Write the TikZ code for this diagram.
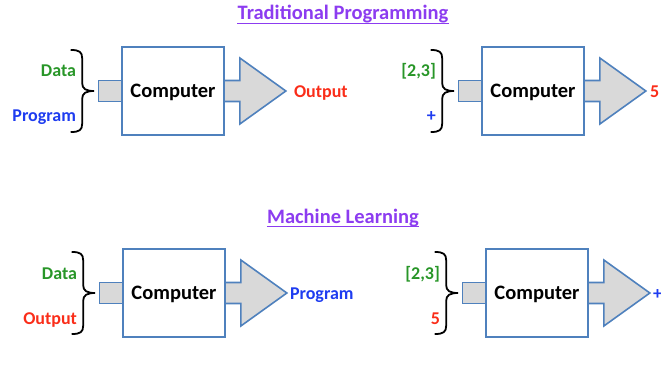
\documentclass[tikz,border=0pt]{standalone}
\usepackage{fontspec}
\setmainfont{Carlito}
\usetikzlibrary{calc,backgrounds}
\definecolor{boxblue}{RGB}{79,129,189}
\definecolor{fillgray}{RGB}{217,217,217}
\definecolor{titlepurple}{RGB}{140,60,240}
\definecolor{datagreen}{RGB}{40,150,40}
\definecolor{progblue}{RGB}{30,60,240}
\definecolor{outred}{RGB}{250,45,25}
\begin{document}
\begin{tikzpicture}[x=1pt,y=-1pt,
  compbox/.style={draw=boxblue, line width=1.7pt, fill=white, minimum width=102pt,
    minimum height=88pt, inner sep=0pt, text depth=0pt,
    font=\fontsize{20.5}{24}\selectfont\bfseries},
  inbox/.style={draw=boxblue, line width=1.6pt, fill=fillgray, minimum width=23pt,
    minimum height=21pt, inner sep=0pt},
  flow/.style={draw=boxblue, line width=1.6pt, fill=fillgray, line join=miter},
  bracepath/.style={draw=black, line width=1.8pt, line cap=round},
  lbl/.style={inner sep=0pt, font=\fontsize{18}{22}\selectfont\bfseries},
  title/.style={inner sep=0pt, text=titlepurple, font=\fontsize{20.5}{24}\selectfont\bfseries},
  uline/.style={draw=titlepurple, line width=1.3pt},
  rbrace/.pic={
    \draw[bracepath] (-11,-41) .. controls (-3,-41) and (0,-39) .. (0,-33)
      -- (0,-8) .. controls (0,-2) and (4,0) .. (12,0)
      .. controls (4,0) and (0,2) .. (0,8)
      -- (0,33) .. controls (0,39) and (-3,41) .. (-11,41);
  }
]
\useasboundingbox (0,0) rectangle (661,377);

% headings
\node[title, anchor=base] (t1) at (343,20) {Traditional Programming};
\draw[uline] ([yshift=-3.5pt]t1.base west) -- ([yshift=-3.5pt]t1.base east);
\node[title, anchor=base] (t2) at (343,223) {Machine Learning};
\draw[uline] ([yshift=-3.5pt]t2.base west) -- ([yshift=-3.5pt]t2.base east);

% computer boxes
\node[compbox] (bA) at (173,91) {Computer};
\node[compbox] (bB) at (533,91) {Computer};
\node[compbox] (bC) at (174,293) {Computer};
\node[compbox] (bD) at (537,293) {Computer};

% input slots and output arrows, behind the boxes
\begin{scope}[on background layer]
\foreach \b in {bA,bB,bC,bD}{
  \node[inbox, anchor=east] (in\b) at ($(\b.west)+(1,0)$) {};
  \draw[flow] ($(\b.east)+(-1,-10.5)$) -- ($(\b.east)+(15,-10.5)$)
    -- ($(\b.east)+(15,-33)$) -- ($(\b.east)+(61,0)$)
    -- ($(\b.east)+(15,33)$) -- ($(\b.east)+(15,10.5)$)
    -- ($(\b.east)+(-1,10.5)$) -- cycle;
}
\end{scope}

% braces gathering the two inputs
\foreach \b in {bA,bB,bC,bD}{
  \pic at ($(\b.west)+(-39,0)$) {rbrace};
}

% inputs
\node[lbl, text=datagreen, anchor=base east] (dA) at ($(bA.west)+(-45,-14)$) {Data};
\node[lbl, text=progblue, anchor=base east] (pA) at ($(bA.west)+(-45,31)$) {Program};
\node[lbl, text=datagreen, anchor=base east] (dB) at ($(bB.west)+(-45,-14)$) {[2,3]};
\node[lbl, text=progblue, anchor=base east] (pB) at ($(bB.west)+(-45,31)$) {+};
\node[lbl, text=datagreen, anchor=base east] (dC) at ($(bC.west)+(-45,-14)$) {Data};
\node[lbl, text=outred, anchor=base east] (oC) at ($(bC.west)+(-45,31)$) {Output};
\node[lbl, text=datagreen, anchor=base east] (dD) at ($(bD.west)+(-45,-14)$) {[2,3]};
\node[lbl, text=outred, anchor=base east] (oD) at ($(bD.west)+(-45,31)$) {5};

% results
\node[lbl, text=outred, anchor=base west] (rA) at ($(bA.east)+(69,6.5)$) {Output};
\node[lbl, text=outred, anchor=base west] (rB) at ($(bB.east)+(65,6.5)$) {5};
\node[lbl, text=progblue, anchor=base west] (rC) at ($(bC.east)+(64,6.5)$) {Program};
\node[lbl, text=progblue, anchor=base west] (rD) at ($(bD.east)+(64,6.5)$) {+};
\end{tikzpicture}
\end{document}
